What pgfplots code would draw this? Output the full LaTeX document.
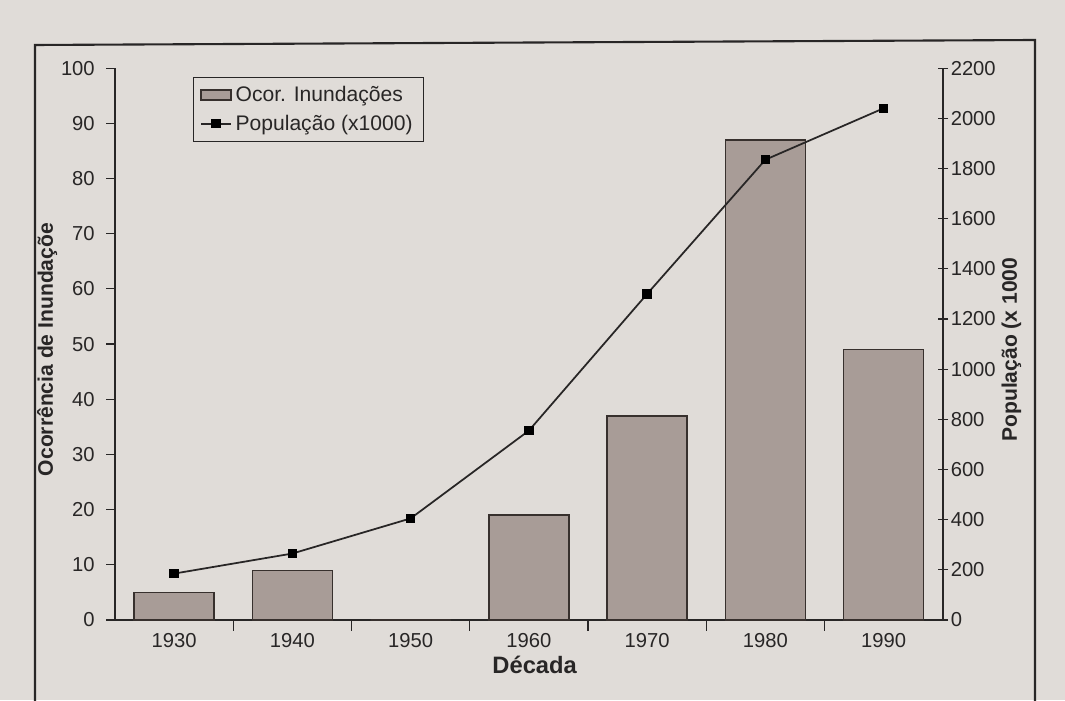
\documentclass[border=0pt]{standalone}
\usepackage{fontspec}
\setmainfont{Liberation Sans}
\usepackage{pgfplots}
\pgfplotsset{compat=1.18}
\definecolor{paper}{RGB}{224,220,216}
\definecolor{barfill}{RGB}{168,156,151}
\definecolor{baredge}{RGB}{55,48,45}
\definecolor{ink}{RGB}{40,38,38}
\begin{document}
\begin{tikzpicture}
\begin{scope}[x=0.02cm,y=0.02cm]
\useasboundingbox (0,0) rectangle (1065,700);
\fill[paper] (0,0) rectangle (1065,700);
\draw[ink, line width=1.2pt] (35,-5) -- (35,655) -- (1035,660) -- (1035,-5);
\end{scope}
\pgfplotsset{
  myaxis/.style={
    scale only axis, width=16.56cm, height=11.04cm,
    at={(2.3cm,1.6cm)}, anchor=south west,
    xmin=1925, xmax=1995,
    axis line style={ink, line width=0.8pt},
    tick style={ink, line width=0.7pt},
    ticklabel style={font=\fontsize{11.5}{13}\selectfont, text=ink},
    /pgf/number format/assume math mode=true,
    /pgf/number format/1000 sep={},
  }
}
\begin{axis}[myaxis,
  ymin=0, ymax=100,
  axis y line*=left, axis x line*=bottom,
  ytick={0,10,...,100},
  xtick={1930,1940,...,1990},
  xticklabels={1930,1940,1950,1960,1970,1980,1990},
  major x tick style={draw=none},
  minor xtick={1935,1945,...,1985},
  minor tick length=6pt,
  tick align=outside,
  major tick length=5pt,
  xticklabel style={yshift=1pt},
  yticklabel style={xshift=-3pt},
  xlabel={Década},
  xlabel style={font=\bfseries\fontsize{13.5}{15}\selectfont, text=ink, at={(rel axis cs:0.507,-0.082)}, anchor=center},
  ylabel={Ocorrência de Inundaçõe},
  ylabel style={font=\bfseries\fontsize{12}{14}\selectfont, text=ink, at={(rel axis cs:-0.082,0.49)}, anchor=center},
  ybar, bar width=1.6cm,
]
\addplot[fill=barfill, draw=baredge, line width=0.9pt] coordinates {
 (1930,5) (1940,9) (1950,0) (1960,19) (1970,37) (1980,87) (1990,49)
};
\end{axis}
\begin{axis}[myaxis,
  ymin=0, ymax=2200,
  axis y line*=right, axis x line=none,
  ytick={0,200,...,2200},
  tick align=center,
  major tick length=6pt,
  yticklabel style={xshift=-2pt},
  ylabel={População (x 1000},
  ylabel style={font=\bfseries\fontsize{12}{14}\selectfont, text=ink, at={(rel axis cs:1.083,0.49)}, anchor=center},
  legend style={at={(rel axis cs:0.094,0.984)}, anchor=north west, draw=ink, line width=0.6pt, fill=none,
    font=\fontsize{12}{14}\selectfont, text=ink, inner xsep=4pt, inner ysep=3pt, row sep=2pt},
  legend cell align=left,
]
\addlegendimage{area legend, fill=barfill, draw=baredge, line width=0.9pt}
\addlegendentry{Ocor. Inundações}
\addplot[ink, line width=1pt, mark=square*, mark size=2.2pt, mark options={fill=black, draw=black}] coordinates {
 (1930,185) (1940,265) (1950,405) (1960,755) (1970,1300) (1980,1835) (1990,2040)
};
\addlegendentry{População (x1000)}
\end{axis}
\end{tikzpicture}
\end{document}
